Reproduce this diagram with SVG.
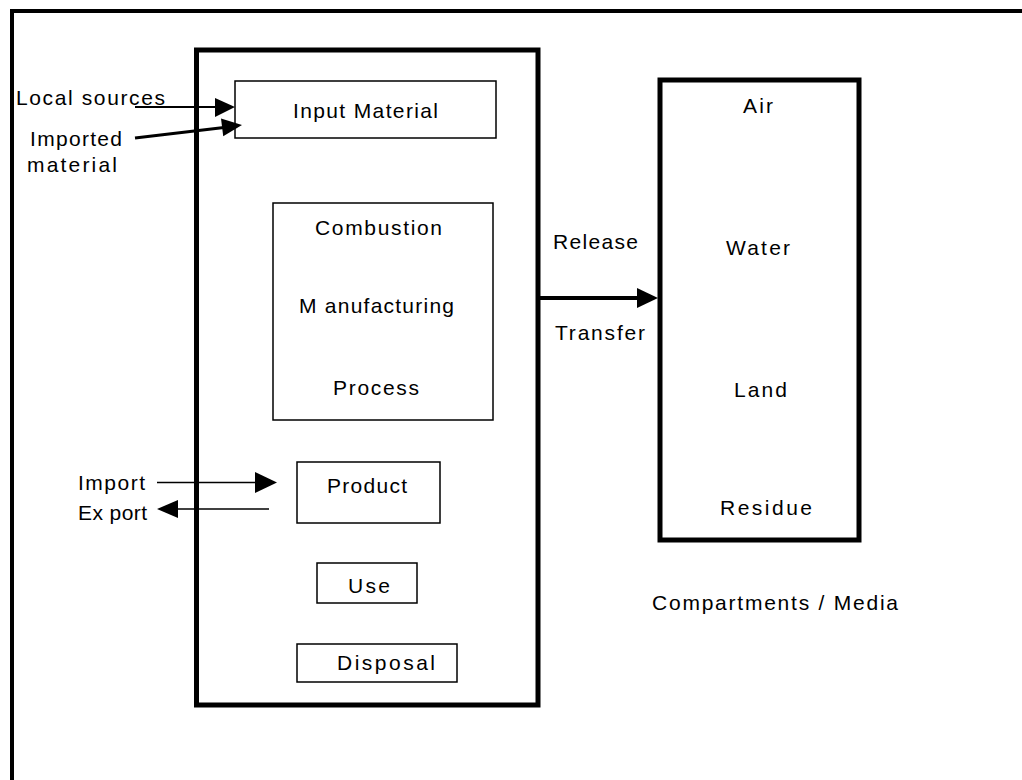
<svg xmlns="http://www.w3.org/2000/svg" width="1022" height="780" viewBox="0 0 1022 780">
  <style>
    text { font-family: "Liberation Sans", Arial, sans-serif; font-size: 21px; fill: #000; }
    .frame { fill: none; stroke: #000; stroke-width: 4; }
    .heavy { fill: none; stroke: #000; stroke-width: 5; }
    .box { fill: #fff; stroke: #000; stroke-width: 1.5; }
    .line { stroke: #000; fill: none; }
    .head { fill: #000; stroke: none; }
  </style>
  <rect width="1022" height="780" fill="#fff"/>

  <!-- page frame: top and left edges only -->
  <path class="frame" d="M12,780 L12,11 L1022,11"/>

  <!-- facility boundary -->
  <g id="facility">
    <rect class="heavy" x="196.5" y="50" width="341.5" height="655"/>
  </g>

  <g id="input-material">
    <rect class="box" x="235" y="81" width="261" height="57"/>
    <text x="293" y="118" textLength="145">Input Material</text>
  </g>

  <g id="process">
    <rect class="box" x="273" y="203" width="220" height="217"/>
    <text x="315" y="235" textLength="127">Combustion</text>
    <text x="299" y="313" textLength="155">M anufacturing</text>
    <text x="333" y="395" textLength="86">Process</text>
  </g>

  <g id="product">
    <rect class="box" x="297" y="462" width="143" height="61"/>
    <text x="327" y="493" textLength="80">Product</text>
  </g>

  <g id="use">
    <rect class="box" x="317" y="563" width="100" height="40"/>
    <text x="348" y="593" textLength="42">Use</text>
  </g>

  <g id="disposal">
    <rect class="box" x="297" y="644" width="160" height="38"/>
    <text x="337" y="670" textLength="98">Disposal</text>
  </g>

  <!-- environmental compartments -->
  <g id="compartments">
    <rect class="heavy" x="660" y="80" width="199" height="460"/>
    <text x="743" y="113" textLength="30">Air</text>
    <text x="726" y="255" textLength="64">Water</text>
    <text x="734" y="397" textLength="53">Land</text>
    <text x="720" y="515" textLength="92">Residue</text>
  </g>

  <g id="compartments-caption">
    <text x="652" y="610" textLength="246">Compartments / Media</text>
  </g>

  <g id="external-labels">
    <text x="16" y="105" textLength="149">Local sources</text>
    <text x="30" y="146" textLength="92">Imported</text>
    <text x="27" y="172" textLength="90">material</text>
    <text x="78" y="490" textLength="67">Import</text>
    <text x="78" y="520" textLength="69">Ex port</text>
    <text x="553" y="249" textLength="85">Release</text>
    <text x="555" y="340" textLength="90">Transfer</text>
  </g>

  <g id="connectors">
    <!-- local sources -> input material -->
    <line class="line" x1="135" y1="107" x2="217" y2="107" stroke-width="2"/>
    <polygon class="head" points="215,98 235,107 215,117"/>
    <!-- imported material -> input material -->
    <line class="line" x1="135" y1="138" x2="224" y2="127.5" stroke-width="3"/>
    <polygon class="head" points="221,118.5 242,125 223.2,136.3"/>
    <!-- import -> product -->
    <line class="line" x1="157" y1="482.5" x2="258" y2="482.5" stroke-width="1.5"/>
    <polygon class="head" points="255,472 277,482.5 255,493"/>
    <!-- product -> export -->
    <line class="line" x1="269" y1="509" x2="175" y2="509" stroke-width="1.5"/>
    <polygon class="head" points="178,500 157,509 178,518"/>
    <!-- release / transfer to compartments -->
    <line class="line" x1="540" y1="298" x2="640" y2="298" stroke-width="4"/>
    <polygon class="head" points="637,288 658,298 637,308"/>
  </g>
</svg>
